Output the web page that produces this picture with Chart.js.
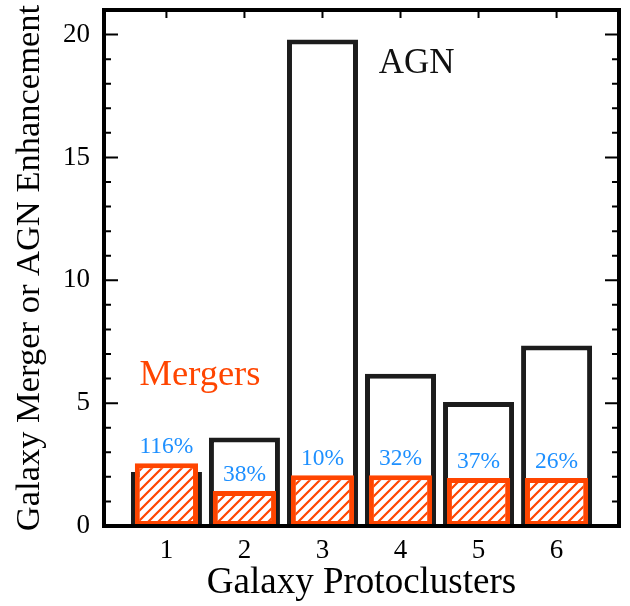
<!DOCTYPE html>
<html>
<head>
<meta charset="utf-8">
<script src="https://cdn.jsdelivr.net/npm/chart.js@4.4.1/dist/chart.umd.min.js"></script>
<style>
  html, body { margin: 0; padding: 0; background: #ffffff; }
  #wrap { width: 630px; height: 606px; }
</style>
</head>
<body>
<div id="wrap"><canvas id="c" width="630" height="606"></canvas></div>
<script>
// Protocluster index (x) and the two enhancement series
const clusters = [1, 2, 3, 4, 5, 6];
const agnEnhancement = [2.2, 3.6, 19.8, 6.2, 5.05, 7.35];
const mergerEnhancement = [2.55, 1.42, 2.07, 2.07, 1.95, 1.95];
const mergerPercent = ['116%', '38%', '10%', '32%', '37%', '26%'];
const yTickValues = [0, 5, 10, 15, 20];

const ORANGE = '#FF4500';
const BLUE = '#1E90FF';
const SERIF = '"Liberation Serif", "Times New Roman", serif';

// Diagonal hatch fill for the merger bars
function makeHatch() {
  const s = 10;
  const p = document.createElement('canvas');
  p.width = s; p.height = s;
  const g = p.getContext('2d');
  g.fillStyle = '#ffffff';
  g.fillRect(0, 0, s, s);
  g.strokeStyle = ORANGE;
  g.lineWidth = 2.2;
  g.beginPath();
  g.moveTo(-1, s + 1); g.lineTo(s + 1, -1);
  g.moveTo(-2, 2); g.lineTo(2, -2);
  g.moveTo(s - 2, s + 2); g.lineTo(s + 2, s - 2);
  g.stroke();
  return document.getElementById('c').getContext('2d').createPattern(p, 'repeat');
}

const toPoints = (vals) => vals.map((v, i) => ({ x: clusters[i], y: v }));

// Frame, inward ticks, value labels and series names
const decorations = {
  id: 'decorations',
  afterDatasetsDraw(chart) {
    const { ctx, scales: { x, y } } = chart;
    ctx.save();
    ctx.font = '23.5px ' + SERIF;
    ctx.fillStyle = BLUE;
    ctx.textAlign = 'center';
    ctx.textBaseline = 'alphabetic';
    mergerPercent.forEach((t, i) => {
      ctx.fillText(t, x.getPixelForValue(clusters[i]), y.getPixelForValue(mergerEnhancement[i]) - 10);
    });
    ctx.font = '35px ' + SERIF;
    ctx.textAlign = 'left';
    ctx.fillStyle = '#111111';
    ctx.fillText('AGN', x.getPixelForValue(3.72), y.getPixelForValue(18.45));
    ctx.font = '36.5px ' + SERIF;
    ctx.fillStyle = ORANGE;
    ctx.fillText('Mergers', x.getPixelForValue(0.655), y.getPixelForValue(5.74));
    ctx.restore();
  },
  afterDraw(chart) {
    const { ctx, chartArea: a, scales: { x, y } } = chart;
    ctx.save();
    ctx.strokeStyle = '#000000';
    ctx.lineWidth = 2;
    ctx.beginPath();
    for (let v = 0; v <= 21; v++) {
      const py = y.getPixelForValue(v);
      const len = v % 5 === 0 ? 14 : 7;
      ctx.moveTo(a.left, py); ctx.lineTo(a.left + len, py);
      ctx.moveTo(a.right, py); ctx.lineTo(a.right - len, py);
    }
    clusters.forEach((c) => {
      const px = x.getPixelForValue(c);
      ctx.moveTo(px, a.top); ctx.lineTo(px, a.top + 8);
    });
    ctx.stroke();
    ctx.lineWidth = 4;
    ctx.strokeRect(a.left, a.top, a.right - a.left, a.bottom - a.top);
    ctx.restore();
  }
};

new Chart(document.getElementById('c'), {
  type: 'bar',
  data: {
    datasets: [
      {
        label: 'Mergers',
        data: toPoints(mergerEnhancement),
        backgroundColor: makeHatch(),
        borderColor: ORANGE,
        borderWidth: 5,
        borderSkipped: false,
        grouped: false,
        categoryPercentage: 1,
        barPercentage: 0.81,
        order: 0
      },
      {
        label: 'AGN',
        data: toPoints(agnEnhancement),
        backgroundColor: '#ffffff',
        borderColor: '#1c1c1c',
        borderWidth: 5,
        borderSkipped: 'start',
        grouped: false,
        categoryPercentage: 1,
        barPercentage: 0.91,
        order: 1
      }
    ]
  },
  options: {
    responsive: false,
    animation: false,
    devicePixelRatio: 1,
    layout: { padding: { left: 0, right: 11, top: 10, bottom: 0 } },
    plugins: { legend: { display: false }, tooltip: { enabled: false } },
    scales: {
      x: {
        type: 'linear',
        offset: false,
        min: 0.2,
        max: 6.8,
        grid: { display: false, drawTicks: false, offset: false },
        border: { display: false },
        afterBuildTicks: (s) => { s.ticks = clusters.map((v) => ({ value: v })); },
        afterFit: (s) => { s.height = 80; s.paddingLeft = 0; s.paddingRight = 0; },
        ticks: {
          color: '#000000',
          padding: 9,
          font: { family: SERIF, size: 27 },
          callback: (v) => String(v)
        },
        title: {
          display: true,
          text: 'Galaxy Protoclusters',
          color: '#000000',
          font: { family: SERIF, size: 37, lineHeight: 1 },
          padding: { top: 0, bottom: 4 }
        }
      },
      y: {
        min: 0,
        max: 21,
        grid: { display: false, drawTicks: false },
        border: { display: false },
        afterBuildTicks: (s) => { s.ticks = yTickValues.map((v) => ({ value: v })); },
        afterFit: (s) => { s.width = 104; s.paddingTop = 0; s.paddingBottom = 0; },
        ticks: {
          color: '#000000',
          padding: 14,
          font: { family: SERIF, size: 27 }
        },
        title: {
          display: true,
          text: 'Galaxy Merger or AGN Enhancement',
          color: '#000000',
          font: { family: SERIF, size: 34.5, lineHeight: 1 },
          padding: { top: 13, bottom: 0 }
        }
      }
    }
  },
  plugins: [decorations]
});
</script>
</body>
</html>
